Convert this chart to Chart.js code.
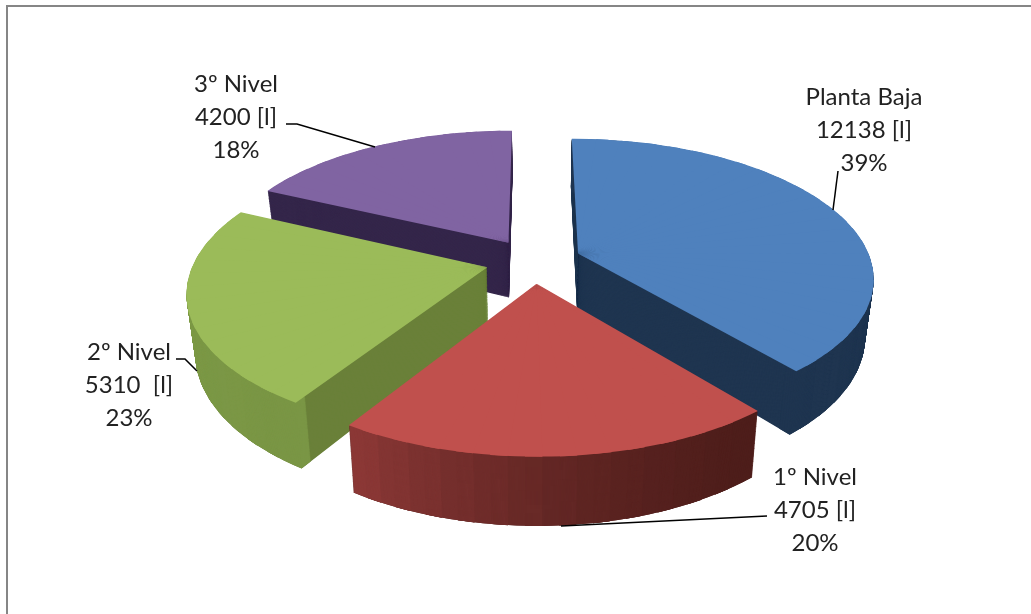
<!DOCTYPE html>
<html>
<head>
<meta charset="utf-8">
<title>Planta Baja y niveles</title>
<script src="https://cdn.jsdelivr.net/npm/chart.js@4"></script>
<style>
    html, body { margin: 0; padding: 0; background: #fff; overflow: hidden; }
    #page { position: relative; width: 1031px; height: 614px; overflow: hidden; }
    #frame { position: absolute; left: 6px; top: 5px; width: 1100px; height: 700px; border: 2px solid #868686; }
    #chartId { position: absolute; left: 0; top: 0; }
</style>
</head>
<body>
<div id="page">
    <div id="frame"></div>
    <canvas id="chartId" width="1031" height="614"></canvas>
</div>
<script>
var categories = ['Planta Baja', '1º Nivel', '2º Nivel', '3º Nivel'];
var liters = ['12138 [l]', '4705 [l]', '5310  [l]', '4200 [l]'];
var shares = [39, 20, 23, 18];

var topColors = ['#4F81BD', '#C0504D', '#9BBB59', '#8064A2'];
var cutColors = ['#1F3550', '#4E1E1B', '#6A8039', '#34264A'];
// rim shade at the start and at the end of each slice
var rimFrom = [[31, 53, 80], [78, 30, 27], [122, 150, 69], [52, 38, 74]];
var rimTo = [[31, 53, 80], [143, 58, 56], [132, 162, 75], [52, 38, 74]];
var drawOrder = [3, 2, 0, 1];

// centre of each label block, first baseline
var labelX = [864, 815, 129, 236];
var labelY = [105, 485, 360, 92];
var leaders = [
    [[838, 171], [833, 210]],
    [[767, 516], [561, 526]],
    [[176, 359], [185, 359], [197, 371]],
    [[286, 124], [297, 124], [375, 147]]
];

// camera used to lay the flat pie on the table
var CX = 533.5, CY = 261, WIDE = 293, TILT = 136, DEPTH = 56, PERSP = 0.165, SHRINK = 0.025;
var LAYERS = 70, STEP = 0.1;

function project(u, v, h) {
    var s = 1 / (1 - PERSP * v);
    return {
        x: CX + u * WIDE * s * (1 - SHRINK * h),
        y: CY + (v * TILT + h * DEPTH) * s
    };
}

function drawWedge(ctx, arc, a0, a1, h, color, innerFactor) {
    var R = arc.outerRadius;
    var mid = (arc.startAngle + arc.endAngle) / 2;
    var ex = Math.cos(mid) * arc.options.offset / 4 / R;
    var ey = Math.sin(mid) * arc.options.offset / 4 / R;

    var p0 = project(ex, ey, h);
    var p1 = project(ex + Math.cos(a0), ey + Math.sin(a0), h);
    var p2 = project(ex + Math.cos(a1), ey + Math.sin(a1), h);

    var ux = R * Math.cos(a0), uy = R * Math.sin(a0);
    var vx = R * Math.cos(a1), vy = R * Math.sin(a1);
    var det = ux * vy - uy * vx;
    var Ux = p1.x - p0.x, Uy = p1.y - p0.y;
    var Vx = p2.x - p0.x, Vy = p2.y - p0.y;
    var a = (Ux * vy - Vx * uy) / det;
    var c = (Vx * ux - Ux * vx) / det;
    var b = (Uy * vy - Vy * uy) / det;
    var d = (Vy * ux - Uy * vx) / det;

    var piece = new Chart.ArcElement({
        x: arc.x,
        y: arc.y,
        startAngle: a0,
        endAngle: a1,
        circumference: a1 - a0,
        innerRadius: R * innerFactor,
        outerRadius: R,
        options: {
            backgroundColor: color,
            borderColor: color,
            borderWidth: 0,
            borderAlign: 'center',
            borderRadius: 0,
            spacing: 0,
            offset: 0,
            circular: true
        }
    });

    ctx.save();
    ctx.setTransform(a, b, c, d, p0.x - a * arc.x - c * arc.y, p0.y - b * arc.x - d * arc.y);
    piece.draw(ctx);
    ctx.restore();
}

function mixColor(from, to, t) {
    var parts = [];
    for (var i = 0; i < 3; i++) {
        parts.push(Math.round(from[i] + (to[i] - from[i]) * t));
    }
    return 'rgb(' + parts.join(',') + ')';
}

function drawSlice(ctx, arc, idx) {
    var start = arc.startAngle, end = arc.endAngle;
    var count = Math.ceil((end - start) / STEP);
    var size = (end - start) / count;
    var i, k, a0, a1, h;

    // straight cuts first, then the curved rim, then the top face
    for (k = LAYERS; k > 0; k--) {
        h = k / LAYERS;
        for (i = 0; i < count; i++) {
            a0 = start + i * size;
            a1 = Math.min(a0 + size * 1.5, end);
            drawWedge(ctx, arc, a0, a1, h, cutColors[idx], 0);
        }
    }
    for (k = LAYERS; k > 0; k--) {
        h = k / LAYERS;
        for (i = 0; i < count; i++) {
            a0 = start + i * size;
            a1 = Math.min(a0 + size * 1.5, end);
            drawWedge(ctx, arc, a0, a1, h, mixColor(rimFrom[idx], rimTo[idx], Math.pow((i + 0.5) / count, 1.6)), 0.95);
        }
    }
    for (i = 0; i < count; i++) {
        a0 = start + i * size;
        a1 = Math.min(a0 + size * 1.5, end);
        drawWedge(ctx, arc, a0, a1, 0, topColors[idx], 0);
    }
}

var pie3d = {
    id: 'pie3d',
    beforeDatasetsDraw: function(chart) {
        var ctx = chart.ctx;
        var arcs = chart.getDatasetMeta(0).data;
        drawOrder.forEach(function(idx) {
            drawSlice(ctx, arcs[idx], idx);
        });
        return false;
    },
    afterDraw: function(chart) {
        var ctx = chart.ctx;
        ctx.save();
        ctx.strokeStyle = '#000';
        ctx.lineWidth = 1.5;
        leaders.forEach(function(line) {
            ctx.beginPath();
            line.forEach(function(pt, i) {
                if (i === 0) {
                    ctx.moveTo(pt[0], pt[1]);
                } else {
                    ctx.lineTo(pt[0], pt[1]);
                }
            });
            ctx.stroke();
        });
        ctx.fillStyle = '#222';
        ctx.font = '24px Lato';
        ctx.textAlign = 'center';
        ctx.textBaseline = 'alphabetic';
        categories.forEach(function(name, i) {
            ctx.fillText(name, labelX[i], labelY[i]);
            ctx.fillText(liters[i], labelX[i], labelY[i] + 33);
            ctx.fillText(shares[i] + '%', labelX[i], labelY[i] + 66);
        });
        ctx.restore();
    }
};

new Chart(document.getElementById('chartId').getContext('2d'), {
    type: 'pie',
    data: {
        labels: categories,
        datasets: [
            {
                data: shares,
                backgroundColor: topColors,
                borderWidth: 0,
                offset: 151
            }
        ]
    },
    options: {
        responsive: false,
        animation: false,
        events: [],
        plugins: {
            legend: { display: false },
            tooltip: { enabled: false }
        }
    },
    plugins: [pie3d]
});
</script>
</body>
</html>
